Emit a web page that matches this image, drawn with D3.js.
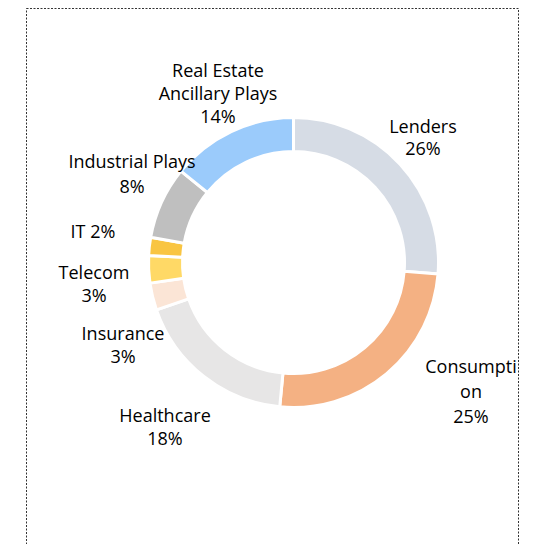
<!DOCTYPE html>
<html>
<head>
<meta charset="utf-8">
<script src="https://cdn.jsdelivr.net/npm/d3@7"></script>
<style>
  body { margin: 0; background: #fff; }
  svg text { font-family: "Gill Sans", "Gill Sans MT", "Open Sans", sans-serif; font-size: 18px; fill: #000; }
</style>
</head>
<body>
<div id="chart"></div>
<script>
const categories = ["Lenders", "Consumption", "Healthcare", "Insurance", "Telecom", "IT", "Industrial Plays", "Real Estate Ancillary Plays"];
const values = [26, 25, 18, 3, 3, 2, 8, 14];
const colors = ["#d6dce5", "#f4b183", "#e7e6e6", "#fbe5d6", "#ffd966", "#f9c542", "#bfbfbf", "#9bcbfb"];
// label lines as shown in the chart
const labelLines = [
  ["Lenders", "26%"],
  ["Consumpti", "on", "25%"],
  ["Healthcare", "18%"],
  ["Insurance", "3%"],
  ["Telecom", "3%"],
  ["IT 2%"],
  ["Industrial Plays", "8%"],
  ["Real Estate", "Ancillary Plays", "14%"]
];
// label anchor: centre x, baseline of first line, line gap
const labelPos = [[423, 132.5, 22.5], [471, 373, 25], [165, 421.5, 23.5], [123, 340, 23], [94, 278.5, 23.2], [93, 237.5, 23], [132, 168.3, 24.4], [218, 76.7, 23.2]];

const width = 547, height = 544;
const cx = 293.5, cy = 262.5, outer = 145, inner = 111;

const svg = d3.select("#chart").append("svg")
  .attr("width", width)
  .attr("height", height);

svg.append("rect")
  .attr("x", 26.5).attr("y", 8.5)
  .attr("width", 492).attr("height", 560)
  .attr("fill", "none")
  .attr("stroke", "#333")
  .attr("stroke-width", 1)
  .attr("stroke-dasharray", "2,1.5");

const pie = d3.pie().sort(null).value(d => d);
const arc = d3.arc().innerRadius(inner).outerRadius(outer);

const g = svg.append("g").attr("transform", `translate(${cx},${cy})`);

g.selectAll("path")
  .data(pie(values))
  .enter()
  .append("path")
  .attr("d", arc)
  .attr("fill", (d, i) => colors[i])
  .attr("stroke", "#fff")
  .attr("stroke-width", 3);

const labels = svg.selectAll("text.lbl")
  .data(labelLines)
  .enter()
  .append("text")
  .attr("class", "lbl")
  .attr("text-anchor", "middle");

labels.each(function(lines, i) {
  const t = d3.select(this);
  const [x, y, gap] = labelPos[i];
  lines.forEach((line, j) => {
    t.append("tspan")
      .attr("x", x)
      .attr("y", y + j * gap)
      .text(line);
  });
});
</script>
</body>
</html>
